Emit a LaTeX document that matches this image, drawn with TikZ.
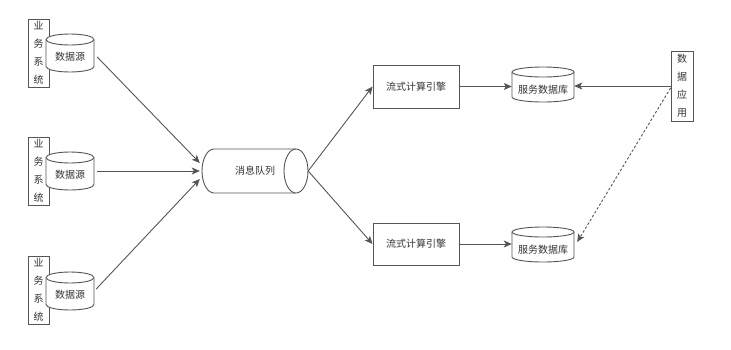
\documentclass[tikz,border=0pt]{standalone}
\usepackage{fontspec}
\setmainfont{Noto Sans CJK SC}
\usetikzlibrary{arrows.meta,calc}
\definecolor{lnc}{HTML}{555555}
\definecolor{txc}{HTML}{333333}
% vertical cylinder: cx, cy, w, h, ry (image coordinates)
\newcommand\vcyl[5]{%
  \filldraw[cylsty] ({#1-#3/2},{#2-#4/2+#5}) -- ({#1-#3/2},{#2+#4/2-#5})
    arc[start angle=180,end angle=360,x radius={#3/2*1pt},y radius={#5*1pt}]
    -- ({#1+#3/2},{#2-#4/2+#5})
    arc[start angle=0,end angle=180,x radius={#3/2*1pt},y radius={#5*1pt}] -- cycle;
  \draw[cylsty] ({#1-#3/2},{#2-#4/2+#5})
    arc[start angle=180,end angle=360,x radius={#3/2*1pt},y radius={#5*1pt}];}
\begin{document}
\begin{tikzpicture}[x=1pt,y=-1pt,
  cylsty/.style={draw=lnc,fill=white,line width=0.9pt},
  txt/.style={font=\fontsize{10}{12}\selectfont,text=txc,inner sep=0pt},
  vbox/.style={txt,draw=lnc,fill=white,line width=0.9pt,align=center,
    font=\fontsize{10}{18}\selectfont,minimum width=21pt,minimum height=68pt},
  ebox/.style={txt,draw=lnc,fill=white,line width=0.9pt,minimum width=86pt},
  srcnode/.style={txt,minimum width=48pt,minimum height=38pt,text height=15.4pt,text depth=0pt},
  dbnode/.style={txt,minimum width=62pt,minimum height=35pt,text height=18.4pt,text depth=0pt},
  arr/.style={draw=lnc,line width=0.9pt,-{Stealth[length=8pt,width=7pt,inset=2pt]}},
  dsh/.style={dash pattern=on 2.5pt off 2pt}]
\useasboundingbox (0,0) rectangle (731,349);

% business systems + data sources
\node[vbox] (b1) at (38.5,53) {业\\务\\系\\统};
\vcyl{70}{53}{48}{38}{5.5}
\node[srcnode] (s1) at (70,53) {数据源};

\node[vbox] (b2) at (38.5,171) {业\\务\\系\\统};
\vcyl{70}{171}{48}{38}{5.5}
\node[srcnode] (s2) at (70,171) {数据源};

\node[vbox] (b3) at (38.5,290) {业\\务\\系\\统};
\vcyl{70}{291}{48}{38}{5.5}
\node[srcnode] (s3) at (70,291) {数据源};

% message queue (horizontal cylinder)
\filldraw[cylsty] (214,149) -- (296,149)
  arc[start angle=90,end angle=-90,x radius=12pt,y radius=22pt] -- (214,193)
  arc[start angle=270,end angle=90,x radius=12pt,y radius=22pt] -- cycle;
\draw[cylsty] (296,149) arc[start angle=90,end angle=270,x radius=12pt,y radius=22pt];
\node[txt,minimum width=106pt,minimum height=44pt] (q) at (255,171) {消息队列};

% stream engines
\node[ebox,minimum height=43pt] (e1) at (416,86.5) {流式计算引擎};
\node[ebox,minimum height=42pt] (e2) at (416,244) {流式计算引擎};

% service databases
\vcyl{543}{84.5}{62}{35}{5}
\node[dbnode] (d1) at (543,84.5) {服务数据库};
\vcyl{543}{244.5}{62}{35}{5}
\node[dbnode] (d2) at (543,244.5) {服务数据库};

% data application
\node[vbox,minimum width=22pt,minimum height=70pt] (a) at (682,86) {数\\据\\应\\用};

% connectors
\draw[arr] ([shift={(3,4)}]s1.east) -- ([shift={(-2,-8)}]q.west);
\draw[arr] ([xshift=3pt]s2.east) -- ([xshift=-2pt]q.west);
\draw[arr] ([shift={(2,-2)}]s3.east) -- ([shift={(-2,8)}]q.west);
\draw[arr] (q.east) -- (e1.west);
\draw[arr] (q.east) -- (e2.west);
\draw[arr] (e1.east) -- (e1.east -| d1.west);
\draw[arr] (e2.east) -- (e2.east -| d2.west);
\draw[arr] (a.west) -- (a.west -| d1.east);
\draw[arr,dsh] ([yshift=-2pt]a.west) -- ([shift={(3,-2.5)}]d2.east);
\end{tikzpicture}
\end{document}
